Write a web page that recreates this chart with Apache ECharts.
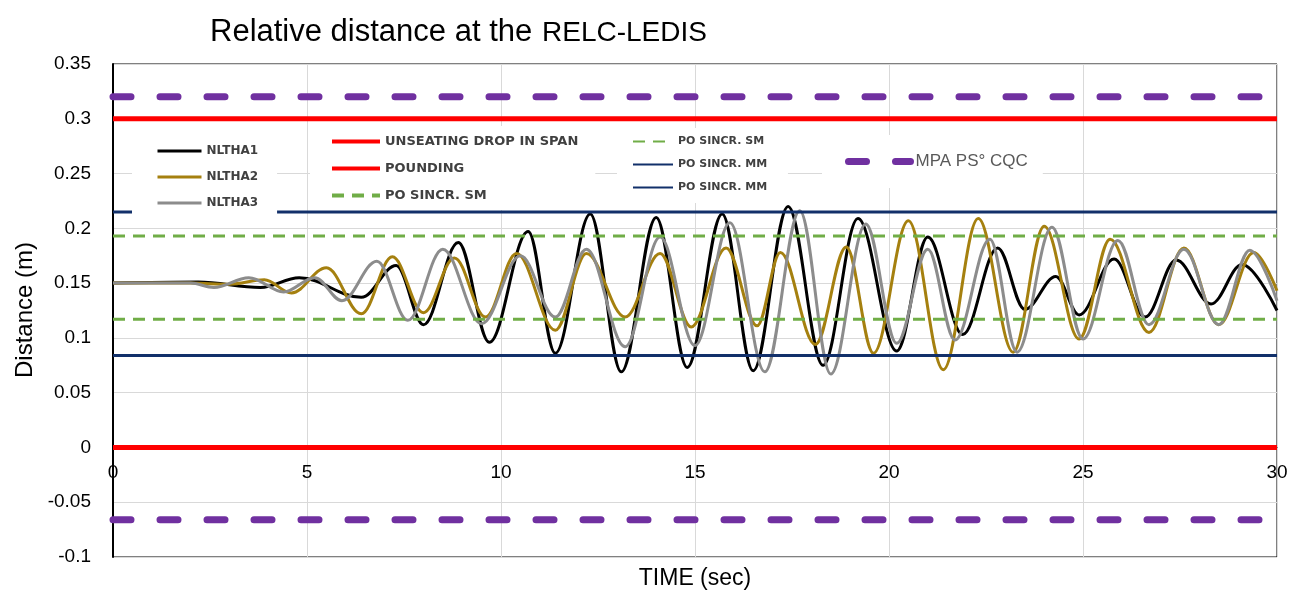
<!DOCTYPE html>
<html><head><meta charset="utf-8">
<script src="https://cdn.jsdelivr.net/npm/echarts@6/dist/echarts.min.js"></script>
<style>html,body{margin:0;padding:0;background:#fff}#c{width:1300px;height:592px}</style>
</head><body><div id="c"></div>
<script>
// ---- data ----
const nltha1T = [0, 2.2, 3.8, 4.8, 6.4, 7.3, 8.0, 8.9, 9.7, 10.7, 11.4, 12.3, 13.1, 14.0, 14.8, 15.7, 16.5, 17.4, 18.3, 19.2, 20.2, 21.0, 21.9, 22.8, 23.5, 24.3, 24.9, 25.8, 26.6, 27.4, 28.3, 29.1, 30];
const nltha1V = [0.150, 0.151, 0.146, 0.155, 0.137, 0.166, 0.112, 0.187, 0.096, 0.197, 0.086, 0.213, 0.069, 0.210, 0.073, 0.213, 0.070, 0.220, 0.075, 0.209, 0.088, 0.192, 0.103, 0.182, 0.126, 0.156, 0.121, 0.172, 0.119, 0.171, 0.131, 0.167, 0.125];

const nltha2T = [0, 2.0, 3.0, 3.9, 4.6, 5.5, 6.4, 7.2, 8.0, 8.8, 9.6, 10.4, 11.4, 12.2, 13.2, 14.1, 14.9, 15.8, 16.6, 17.2, 18.1, 18.9, 19.6, 20.5, 21.4, 22.3, 23.2, 24.0, 24.9, 25.7, 26.7, 27.6, 28.5, 29.4, 30];
const nltha2V = [0.150, 0.150, 0.149, 0.153, 0.141, 0.164, 0.122, 0.174, 0.123, 0.173, 0.119, 0.177, 0.107, 0.177, 0.119, 0.177, 0.110, 0.182, 0.111, 0.178, 0.094, 0.183, 0.086, 0.207, 0.071, 0.209, 0.087, 0.202, 0.099, 0.190, 0.105, 0.182, 0.112, 0.178, 0.143];

const nltha3T = [0, 2.0, 2.6, 3.5, 4.4, 5.2, 5.9, 6.8, 7.6, 8.5, 9.5, 10.5, 11.4, 12.2, 13.2, 14.1, 15.0, 15.9, 16.8, 17.7, 18.5, 19.4, 20.2, 21.0, 21.7, 22.6, 23.3, 24.2, 25.0, 25.9, 26.7, 27.6, 28.5, 29.3, 30];
const nltha3V = [0.150, 0.150, 0.146, 0.155, 0.142, 0.155, 0.134, 0.170, 0.116, 0.181, 0.113, 0.175, 0.119, 0.181, 0.092, 0.192, 0.093, 0.205, 0.069, 0.216, 0.067, 0.204, 0.095, 0.181, 0.098, 0.190, 0.087, 0.201, 0.099, 0.189, 0.112, 0.181, 0.112, 0.180, 0.134];

const limitNames  = ['UNSEATING DROP IN SPAN', 'POUNDING', 'PO SINCR. SM', 'PO SINCR. SM ', 'PO SINCR. MM', 'PO SINCR. MM ', 'MPA PS° CQC', 'MPA PS° CQC '];
const limitValues = [0.30, 0.0, 0.193, 0.117, 0.215, 0.084, 0.320, -0.066];
const timeRange = [0, 30];

// ---- styles ----
const curveStyles = [
  { name: 'NLTHA1', color: '#000000' },
  { name: 'NLTHA2', color: '#A5800F' },
  { name: 'NLTHA3', color: '#8C8C8C' }
];
const limitStyles = [
  { color: '#FF0000', width: 5 },
  { color: '#FF0000', width: 5 },
  { color: '#70AD47', width: 3, type: [12, 8] },
  { color: '#70AD47', width: 3, type: [12, 8] },
  { color: '#12306A', width: 3 },
  { color: '#12306A', width: 3 },
  { color: '#7030A0', width: 7, type: [18, 29], cap: 'round' },
  { color: '#7030A0', width: 7, type: [18, 29], cap: 'round' }
];

const zip = (t, v) => t.map((x, i) => [x, v[i]]);
const curves = [zip(nltha1T, nltha1V), zip(nltha2T, nltha2V), zip(nltha3T, nltha3V)];

const series = [];
curves.forEach((d, i) => {
  series.push({
    name: curveStyles[i].name, type: 'line', data: d,
    smooth: 0.36, smoothMonotone: 'x', symbol: 'none',
    color: curveStyles[i].color,
    lineStyle: { color: curveStyles[i].color, width: 3 },
    z: 2
  });
});
limitNames.forEach((n, i) => {
  const s = limitStyles[i];
  series.push({
    name: n, type: 'line', symbol: 'none', color: s.color,
    data: [[timeRange[0], limitValues[i]], [timeRange[1], limitValues[i]]],
    lineStyle: { color: s.color, width: s.width, type: s.type || 'solid', cap: s.cap || 'butt' },
    z: 3
  });
});

const legendText = (size, bold, color, family) => ({
  fontFamily: family || 'DejaVu Sans', fontSize: size, fontWeight: bold ? 'bold' : 'normal', color: color || '#404040'
});
const hiddenSymbol = { color: 'rgba(0,0,0,0)', borderWidth: 0, opacity: 0 };

const option = {
  animation: false,
  backgroundColor: '#fff',
  grid: { left: 113, right: 23, top: 64, bottom: 35, show: true, borderColor: '#000', borderWidth: 1 },
  xAxis: {
    type: 'value', min: 0, max: 30, interval: 5, position: 'bottom', offset: -109.6,
    axisLine: { show: true, onZero: false, lineStyle: { color: '#000', width: 1 } },
    axisTick: { show: false },
    splitLine: { show: true, lineStyle: { color: '#D9D9D9', width: 1 } },
    axisLabel: { margin: 16, fontSize: 19, fontFamily: 'Liberation Sans', color: '#000' }
  },
  yAxis: {
    type: 'value', min: -0.1, max: 0.35, interval: 0.05,
    axisLine: { show: true, onZero: false, lineStyle: { color: '#000', width: 2 } },
    axisTick: { show: false },
    splitLine: { show: true, lineStyle: { color: '#D9D9D9', width: 1 } },
    axisLabel: { margin: 22, fontSize: 19, fontFamily: 'Liberation Sans', color: '#000',
      formatter: v => String(+v.toFixed(2)) }
  },
  legend: [
    { data: ['NLTHA1', 'NLTHA2', 'NLTHA3'], orient: 'vertical', left: 132, top: 132,
      padding: [13, 19, 6, 24], itemWidth: 44, itemHeight: 14, itemGap: 14,
      backgroundColor: '#fff', selectedMode: false, textStyle: legendText(12, true),
      itemStyle: hiddenSymbol, lineStyle: { width: 3 } },
    { data: ['UNSEATING DROP IN SPAN', 'POUNDING', 'PO SINCR. SM'], orient: 'vertical', left: 310, top: 126,
      padding: [9, 17, 8, 20], itemWidth: 48, itemHeight: 14, itemGap: 14,
      backgroundColor: '#fff', selectedMode: false, textStyle: legendText(13, true),
      itemStyle: hiddenSymbol, lineStyle: { width: 4 } },
    { data: ['PO SINCR. SM ', 'PO SINCR. MM', 'PO SINCR. MM '], orient: 'vertical', left: 617, top: 128,
      padding: [8, 17, 10, 15], itemWidth: 40, itemHeight: 12, itemGap: 12,
      backgroundColor: '#fff', selectedMode: false, textStyle: legendText(11, true),
      itemStyle: hiddenSymbol, lineStyle: { width: 2 } },
    { data: ['MPA PS° CQC'], orient: 'vertical', left: 822, top: 135,
      padding: [18, 15, 18, 23], itemWidth: 62, itemHeight: 14, itemGap: 0,
      backgroundColor: '#fff', selectedMode: false,
      textStyle: legendText(17, false, '#595959', 'Liberation Sans'),
      itemStyle: hiddenSymbol, lineStyle: { width: 7 } }
  ],
  graphic: [
    { type: 'text', x: 210, y: 32, style: { text: 'Relative distance at the', fontSize: 31, fontFamily: 'Liberation Sans', fill: '#000', verticalAlign: 'middle' } },
    { type: 'text', x: 542, y: 33, style: { text: 'RELC-LEDIS', fontSize: 28, fontFamily: 'Liberation Sans', fill: '#000', verticalAlign: 'middle' } },
    { type: 'text', x: 695, y: 579, style: { text: 'TIME (sec)', fontSize: 23, fontFamily: 'Liberation Sans', fill: '#000', align: 'center', verticalAlign: 'middle' } },
    { type: 'text', x: 25, y: 310, rotation: Math.PI / 2, style: { text: 'Distance (m)', fontSize: 24, fontFamily: 'Liberation Sans', fill: '#000', align: 'center', verticalAlign: 'middle' } }
  ],
  series: series
};

const chart = echarts.init(document.getElementById('c'), null, { renderer: 'canvas' });
chart.setOption(option);
</script>
</body></html>
